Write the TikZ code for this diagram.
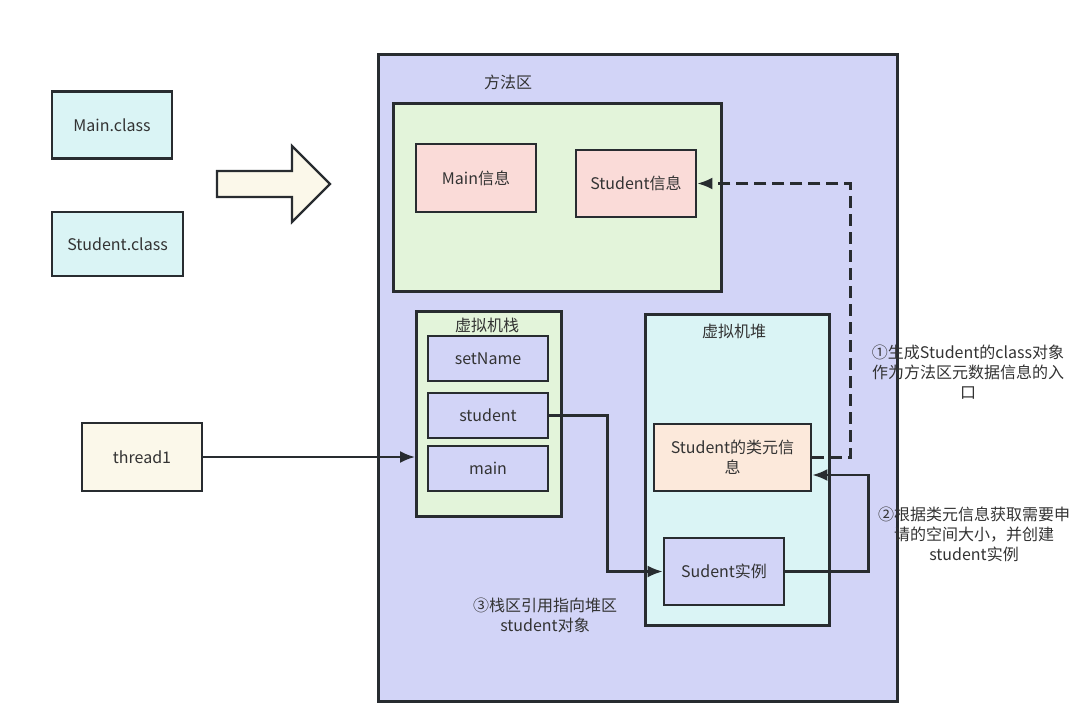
\documentclass[tikz,border=0pt]{standalone}
\usepackage{fontspec}
\newfontfamily\cjk{Noto Sans CJK SC}
\usetikzlibrary{arrows.meta,
positioning,
calc}

\definecolor{edge}{RGB}{40,44,48}
\definecolor{textgray}{RGB}{51,51,51}
\definecolor{jvmpurple}{RGB}{210,212,247}
\definecolor{areagreen}{RGB}{227,244,218}
\definecolor{infopink}{RGB}{250,219,216}
\definecolor{classcyan}{RGB}{218,244,245}
\definecolor{threadcream}{RGB}{251,248,234}
\definecolor{metapeach}{RGB}{252,233,219}

\begin{document}
\begin{tikzpicture} [x=1pt, y=-1pt,
    >={Latex[length=15pt, width=12pt]},
    line width=2.2pt,
    every node/.style={font=\cjk\fontsize{16}{20}\selectfont, text=textgray},
    main node/.style={rectangle, draw=edge, line width=2.8pt, align=center,
        minimum width=120pt, minimum height=67pt, inner sep=2pt},
    area node/.style={rectangle, draw=edge, line width=2.8pt, anchor=north west},
    link/.style={draw=edge, ->}]

  \useasboundingbox (0,0) rectangle (1089,707);

  % class files on the left
  \node [main node, fill=classcyan] (mainclass) at (112,125) {Main.class};
  \node [main node, fill=classcyan, minimum width=131pt, minimum height=64pt]
  (studentclass) at (117.5,244) {Student.class};

  \draw [draw=edge, fill=threadcream, line width=2.2pt, line join=miter]
  (217,171) -- (292,171) -- (292,146) -- (330,184) -- (292,222) -- (292,197) -- (217,197) -- cycle;

  % jvm areas
  \node [area node, fill=jvmpurple, minimum width=519pt, minimum height=647pt]
  (jvm) at (377,53) {};

  \node [] (methodlabel) at (508,82) {方法区};
  \node [area node, fill=areagreen, minimum width=328pt, minimum height=188pt]
  (methodarea) at (392,102) {};

  \node [main node, fill=infopink, minimum height=68pt] (maininfo) at (476,178) {Main信息};
  \node [main node, fill=infopink] (studentinfo) at (636,183.5) {Student信息};

  \node [area node, fill=areagreen, minimum width=145pt, minimum height=205pt]
  (stack) at (415,310) {};
  \node [] (stacklabel) at (487,325) {虚拟机栈};

  \node [main node, fill=jvmpurple, minimum height=45pt] (setname) at (488,358.5) {setName};
  \node [main node, fill=jvmpurple, minimum height=45pt,
    below = 9.2pt of setname] (studentref) {student};
  \node [main node, fill=jvmpurple, minimum height=45pt,
    below = 5.2pt of studentref] (mainframe) {main};

  \node [area node, fill=classcyan, minimum width=184pt, minimum height=311pt]
  (heap) at (644,313) {};
  \node [] (heaplabel) at (734,331) {虚拟机堆};

  \node [main node, fill=metapeach, minimum width=157pt] (classmeta) at (732.5,457.5)
  {Student的类元信\\息};
  \node [main node, fill=jvmpurple] (instance) at (724,571.5) {Sudent实例};

  \node [main node, fill=threadcream, minimum height=68pt] (thread) at (142,457) {thread1};

  % connectors
  \draw [link] (thread.east) -- (thread.east -| stack.west);

  \draw [link] (studentref.east) -- ++(58,0) |- (instance.west);

  \draw [link] (instance.east) -- ++(83,0) |- ([yshift=-17.5pt]classmeta.east);

  \draw [link, dash pattern=on 12pt off 6pt] (classmeta.east) -- ++(38,0) |- (studentinfo.east);

  % notes
  \node [align=center] (note1) at (968,372)
  {①生成Student的class对象\\作为方法区元数据信息的入\\口};
  \node [align=center] (note2) at (974,534)
  {②根据类元信息获取需要申\\请的空间大小，并创建\\student实例};
  \node [align=center] (note3) at (545,615)
  {③栈区引用指向堆区\\student对象};

\end{tikzpicture}
\end{document}
